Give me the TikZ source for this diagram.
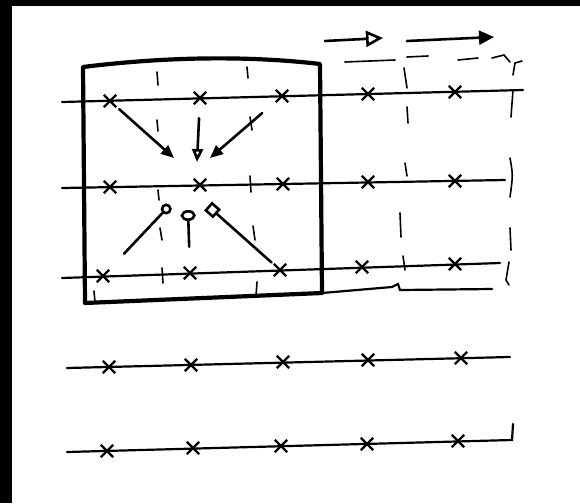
\documentclass[tikz,border=0pt]{standalone}
\usetikzlibrary{arrows.meta,shapes.misc}

\begin{document}
\begin{tikzpicture}[x=1pt, y=-1pt,
    xmark/.style={cross out, draw, line width=2.4pt, minimum size=10pt, inner sep=0pt},
    wire/.style={line width=2.2pt, line cap=round},
    pen/.style={line width=1.6pt, line cap=round},
    frame/.style={line width=4.2pt, line join=round},
    push/.style={line width=2.6pt, line cap=round}]
    \fill[white] (0,0) rectangle (580,503);
    \fill[black] (0,0) rectangle (12,503);
    \fill[black] (0,0) rectangle (580,6);
    \useasboundingbox (0,0) rectangle (580,503);

    \draw[wire] (62,102) -- (523,90);
    \draw[wire] (62,188) -- (505,180);
    \draw[wire] (62,278) -- (500,263);
    \draw[wire] (67,368) -- (510,357);
    \draw[wire] (67,452) -- (512,440) -- (513,424);

    \foreach \n/\x/\y in {a1/110/101, a2/200/98, a3/282/96, a4/368/94, a5/455/92,
                          b1/110/187, b2/200/185, b3/283/184, b4/368/182, b5/455/181,
                          c1/103/276, c2/190/273, c3/280/270, c4/362/267, c5/455/264,
                          d1/109/367, d2/191/365, d3/283/362, d4/368/360, d5/461/358,
                          e1/107/451, e2/193/448, e3/281/446, e4/367/444, e5/458/441}
        \node[xmark] (\n) at (\x,\y) {};

    \draw[frame] (83,67) .. controls (180,55) and (260,57) .. (320,64) -- (322,293) -- (85,303) -- cycle;
    \draw[wire] (322,293) -- (392,287) -- (398,284) -- (400,290) -- (492,289);

    \coordinate (tl) at (174,158);
    \coordinate (tm) at (197,162);
    \coordinate (tr) at (210,158);
    \coordinate (bl) at (170,205);
    \coordinate (bm) at (188,210);
    \coordinate (br) at (208,206);
    \draw[push, -{Triangle[length=13pt,width=11pt]}, shorten <=4pt] (a1) -- (tl);
    \draw[push, -{Triangle[open,length=13pt,width=11pt]}, shorten <=14pt] (a2) -- (tm);
    \draw[push, -{Triangle[length=13pt,width=11pt]}, shorten <=18pt] (a3) -- (tr);
    \draw[push, -{Circle[open,length=11pt,width=11pt]}, shorten <=22pt] (c1) -- (bl);
    \draw[push, -{Ellipse[open,length=11pt,width=15pt]}, shorten <=20pt] (c2) -- (bm);
    \draw[push, -{Square[open,length=12pt,width=12pt]}, shorten <=3pt] (c3) -- (br);

    \coordinate (p1) at (325,41);
    \coordinate (q1) at (383,38);
    \coordinate (p2) at (407,41);
    \coordinate (q2) at (494,37);
    \draw[push, -{Triangle[open,length=17pt,width=16pt]}] (p1) -- (q1);
    \draw[push, -{Triangle[length=15pt,width=14pt]}] (p2) -- (q2);
    \draw[pen] (345,62) -- (395,60);
    \draw[pen] (407,57) -- (428,56);
    \draw[pen] (458,60) -- (478,58);
    \draw[pen] (492,58) -- (504,55) -- (510,62);
    \draw[pen] (513,75) -- (515,63) -- (522,61);

    \draw[pen] (157,72) -- (158,85);
    \draw[pen] (247,67) -- (248,78);
    \draw[pen] (157,120) -- (158,131);
    \draw[pen] (250,117) -- (252,130);
    \draw[pen] (158,190) -- (159,200);
    \draw[pen] (250,176) -- (251,192);
    \draw[pen] (160,228) -- (162,240);
    \draw[pen] (253,226) -- (255,240);
    \draw[pen] (162,268) -- (163,283);
    \draw[pen] (257,282) -- (256,296);
    \draw[pen] (94,291) -- (95,302);
    \draw[pen] (404,68) -- (407,88);
    \draw[pen] (407,107) -- (408,123);
    \draw[pen] (513,90) -- (511,117);
    \draw[pen] (405,163) -- (407,176);
    \draw[pen] (510,158) .. controls (513,175) .. (510,197);
    \draw[pen] (400,213) -- (401,237);
    \draw[pen] (510,228) -- (511,250);
    \draw[pen] (403,256) -- (405,270);
    \draw[pen] (509,262) -- (506,280) -- (509,285);
\end{tikzpicture}
\end{document}
